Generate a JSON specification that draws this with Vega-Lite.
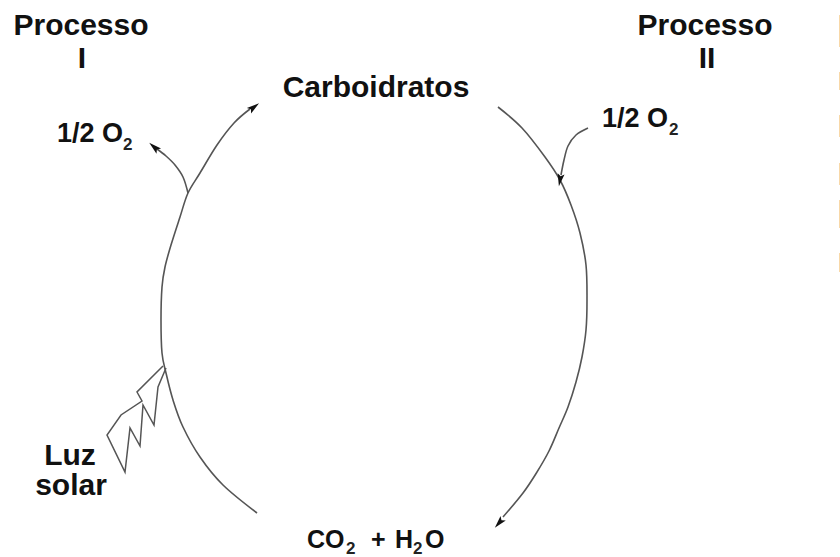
{
  "$schema": "https://vega.github.io/schema/vega-lite/v6.json",
  "width": 840,
  "height": 557,
  "autosize": "none",
  "padding": 0,
  "background": "white",
  "config": {"view": {"stroke": null}},
  "datasets": {
    "curves": [
      {"seg": "A", "i": 1, "x": 257, "y": 513},
      {"seg": "A", "i": 2, "x": 223, "y": 485},
      {"seg": "A", "i": 3, "x": 200, "y": 457},
      {"seg": "A", "i": 4, "x": 183, "y": 427},
      {"seg": "A", "i": 5, "x": 173, "y": 400},
      {"seg": "A", "i": 6, "x": 166, "y": 373},
      {"seg": "A", "i": 7, "x": 162, "y": 353},
      {"seg": "A", "i": 8, "x": 161, "y": 320},
      {"seg": "A", "i": 9, "x": 162, "y": 287},
      {"seg": "A", "i": 10, "x": 165, "y": 267},
      {"seg": "A", "i": 11, "x": 171, "y": 245},
      {"seg": "A", "i": 12, "x": 180, "y": 217},
      {"seg": "A", "i": 13, "x": 188, "y": 193},
      {"seg": "A", "i": 14, "x": 200, "y": 173},
      {"seg": "A", "i": 15, "x": 217, "y": 145},
      {"seg": "A", "i": 16, "x": 234, "y": 123},
      {"seg": "A", "i": 17, "x": 250, "y": 109},
      {"seg": "B", "i": 1, "x": 188, "y": 193},
      {"seg": "B", "i": 2, "x": 183, "y": 177},
      {"seg": "B", "i": 3, "x": 175, "y": 165},
      {"seg": "B", "i": 4, "x": 166, "y": 156},
      {"seg": "B", "i": 5, "x": 157, "y": 149},
      {"seg": "C", "i": 1, "x": 498, "y": 107},
      {"seg": "C", "i": 2, "x": 522, "y": 128},
      {"seg": "C", "i": 3, "x": 545, "y": 157},
      {"seg": "C", "i": 4, "x": 560, "y": 180},
      {"seg": "C", "i": 5, "x": 571, "y": 205},
      {"seg": "C", "i": 6, "x": 580, "y": 233},
      {"seg": "C", "i": 7, "x": 586, "y": 265},
      {"seg": "C", "i": 8, "x": 587, "y": 300},
      {"seg": "C", "i": 9, "x": 586, "y": 330},
      {"seg": "C", "i": 10, "x": 582, "y": 357},
      {"seg": "C", "i": 11, "x": 576, "y": 382},
      {"seg": "C", "i": 12, "x": 568, "y": 407},
      {"seg": "C", "i": 13, "x": 559, "y": 428},
      {"seg": "C", "i": 14, "x": 549, "y": 451},
      {"seg": "C", "i": 15, "x": 537, "y": 472},
      {"seg": "C", "i": 16, "x": 523, "y": 493},
      {"seg": "C", "i": 17, "x": 503, "y": 517},
      {"seg": "D", "i": 1, "x": 588, "y": 128},
      {"seg": "D", "i": 2, "x": 576, "y": 135},
      {"seg": "D", "i": 3, "x": 568, "y": 146},
      {"seg": "D", "i": 4, "x": 564, "y": 160},
      {"seg": "D", "i": 5, "x": 561, "y": 175}
    ],
    "bolt": [
      {"i": 1, "x": 163, "y": 366},
      {"i": 2, "x": 137, "y": 392},
      {"i": 3, "x": 142, "y": 401},
      {"i": 4, "x": 121, "y": 415},
      {"i": 5, "x": 107, "y": 435},
      {"i": 6, "x": 125, "y": 472},
      {"i": 7, "x": 130, "y": 428},
      {"i": 8, "x": 140, "y": 446},
      {"i": 9, "x": 143, "y": 405},
      {"i": 10, "x": 154, "y": 425},
      {"i": 11, "x": 158, "y": 387},
      {"i": 12, "x": 166, "y": 368}
    ],
    "arrows": [
      {"x": 154, "y": 147, "angle": 311},
      {"x": 254, "y": 107, "angle": 53},
      {"x": 560, "y": 180, "angle": 190},
      {"x": 499, "y": 523, "angle": 221}
    ],
    "labels": [
      {"text": "Processo", "x": 81, "y": 35},
      {"text": "I", "x": 82, "y": 68},
      {"text": "Carboidratos", "x": 376, "y": 97},
      {"text": "Processo", "x": 705, "y": 35},
      {"text": "II", "x": 707, "y": 68},
      {"text": "Luz", "x": 70, "y": 465},
      {"text": "solar", "x": 71, "y": 495}
    ],
    "bottom": [
      {"text": "CO", "x": 307, "y": 548},
      {"text": "+", "x": 371, "y": 548},
      {"text": "H", "x": 395, "y": 548},
      {"text": "O", "x": 425, "y": 548}
    ],
    "half": [
      {"text": "1/2 O", "x": 57, "y": 142},
      {"text": "1/2 O", "x": 602, "y": 127}
    ],
    "subs": [
      {"text": "2", "x": 123, "y": 150},
      {"text": "2", "x": 669, "y": 135},
      {"text": "2", "x": 346, "y": 554},
      {"text": "2", "x": 413, "y": 554}
    ],
    "edge": [
      {"y": 15, "y2": 47},
      {"y": 72, "y2": 90},
      {"y": 115, "y2": 137},
      {"y": 163, "y2": 185},
      {"y": 200, "y2": 228},
      {"y": 253, "y2": 272}
    ]
  },
  "layer": [
    {
      "data": {"name": "curves"},
      "mark": {"type": "line", "interpolate": "cardinal", "stroke": "#555555", "strokeWidth": 1.6},
      "encoding": {
        "x": {"field": "x", "type": "quantitative", "scale": {"domain": [0, 840], "nice": false, "zero": false}, "axis": null},
        "y": {"field": "y", "type": "quantitative", "scale": {"domain": [0, 557], "nice": false, "zero": false, "reverse": true}, "axis": null},
        "detail": {"field": "seg"},
        "order": {"field": "i", "type": "quantitative"}
      }
    },
    {
      "data": {"name": "bolt"},
      "mark": {"type": "line", "interpolate": "linear", "stroke": "#555555", "strokeWidth": 1.5},
      "encoding": {
        "x": {"field": "x", "type": "quantitative", "axis": null},
        "y": {"field": "y", "type": "quantitative", "axis": null},
        "order": {"field": "i", "type": "quantitative"}
      }
    },
    {
      "data": {"name": "arrows"},
      "mark": {"type": "point", "shape": "M0,-1L0.55,1L0,0.6L-0.55,1Z", "filled": true, "color": "#111", "size": 160, "opacity": 1},
      "encoding": {
        "x": {"field": "x", "type": "quantitative", "axis": null},
        "y": {"field": "y", "type": "quantitative", "axis": null},
        "angle": {"field": "angle", "type": "quantitative", "scale": null}
      }
    },
    {
      "data": {"name": "labels"},
      "mark": {"type": "text", "font": "Liberation Sans", "fontWeight": "bold", "fontSize": 30, "baseline": "alphabetic", "align": "center", "color": "#111"},
      "encoding": {
        "x": {"field": "x", "type": "quantitative", "axis": null},
        "y": {"field": "y", "type": "quantitative", "axis": null},
        "text": {"field": "text"}
      }
    },
    {
      "data": {"name": "bottom"},
      "mark": {"type": "text", "font": "Liberation Sans", "fontWeight": "bold", "fontSize": 25, "baseline": "alphabetic", "align": "left", "color": "#111"},
      "encoding": {
        "x": {"field": "x", "type": "quantitative", "axis": null},
        "y": {"field": "y", "type": "quantitative", "axis": null},
        "text": {"field": "text"}
      }
    },
    {
      "data": {"name": "half"},
      "mark": {"type": "text", "font": "Liberation Sans", "fontWeight": "bold", "fontSize": 27, "baseline": "alphabetic", "align": "left", "color": "#111"},
      "encoding": {
        "x": {"field": "x", "type": "quantitative", "axis": null},
        "y": {"field": "y", "type": "quantitative", "axis": null},
        "text": {"field": "text"}
      }
    },
    {
      "data": {"name": "subs"},
      "mark": {"type": "text", "font": "Liberation Sans", "fontWeight": "bold", "fontSize": 17, "baseline": "alphabetic", "align": "left", "color": "#222"},
      "encoding": {
        "x": {"field": "x", "type": "quantitative", "axis": null},
        "y": {"field": "y", "type": "quantitative", "axis": null},
        "text": {"field": "text"}
      }
    },
    {
      "data": {"name": "edge"},
      "mark": {"type": "rule", "stroke": "#f8d8a8", "strokeWidth": 1},
      "encoding": {
        "x": {"datum": 839.5, "type": "quantitative", "axis": null},
        "y": {"field": "y", "type": "quantitative", "axis": null},
        "y2": {"field": "y2"}
      }
    }
  ]
}
